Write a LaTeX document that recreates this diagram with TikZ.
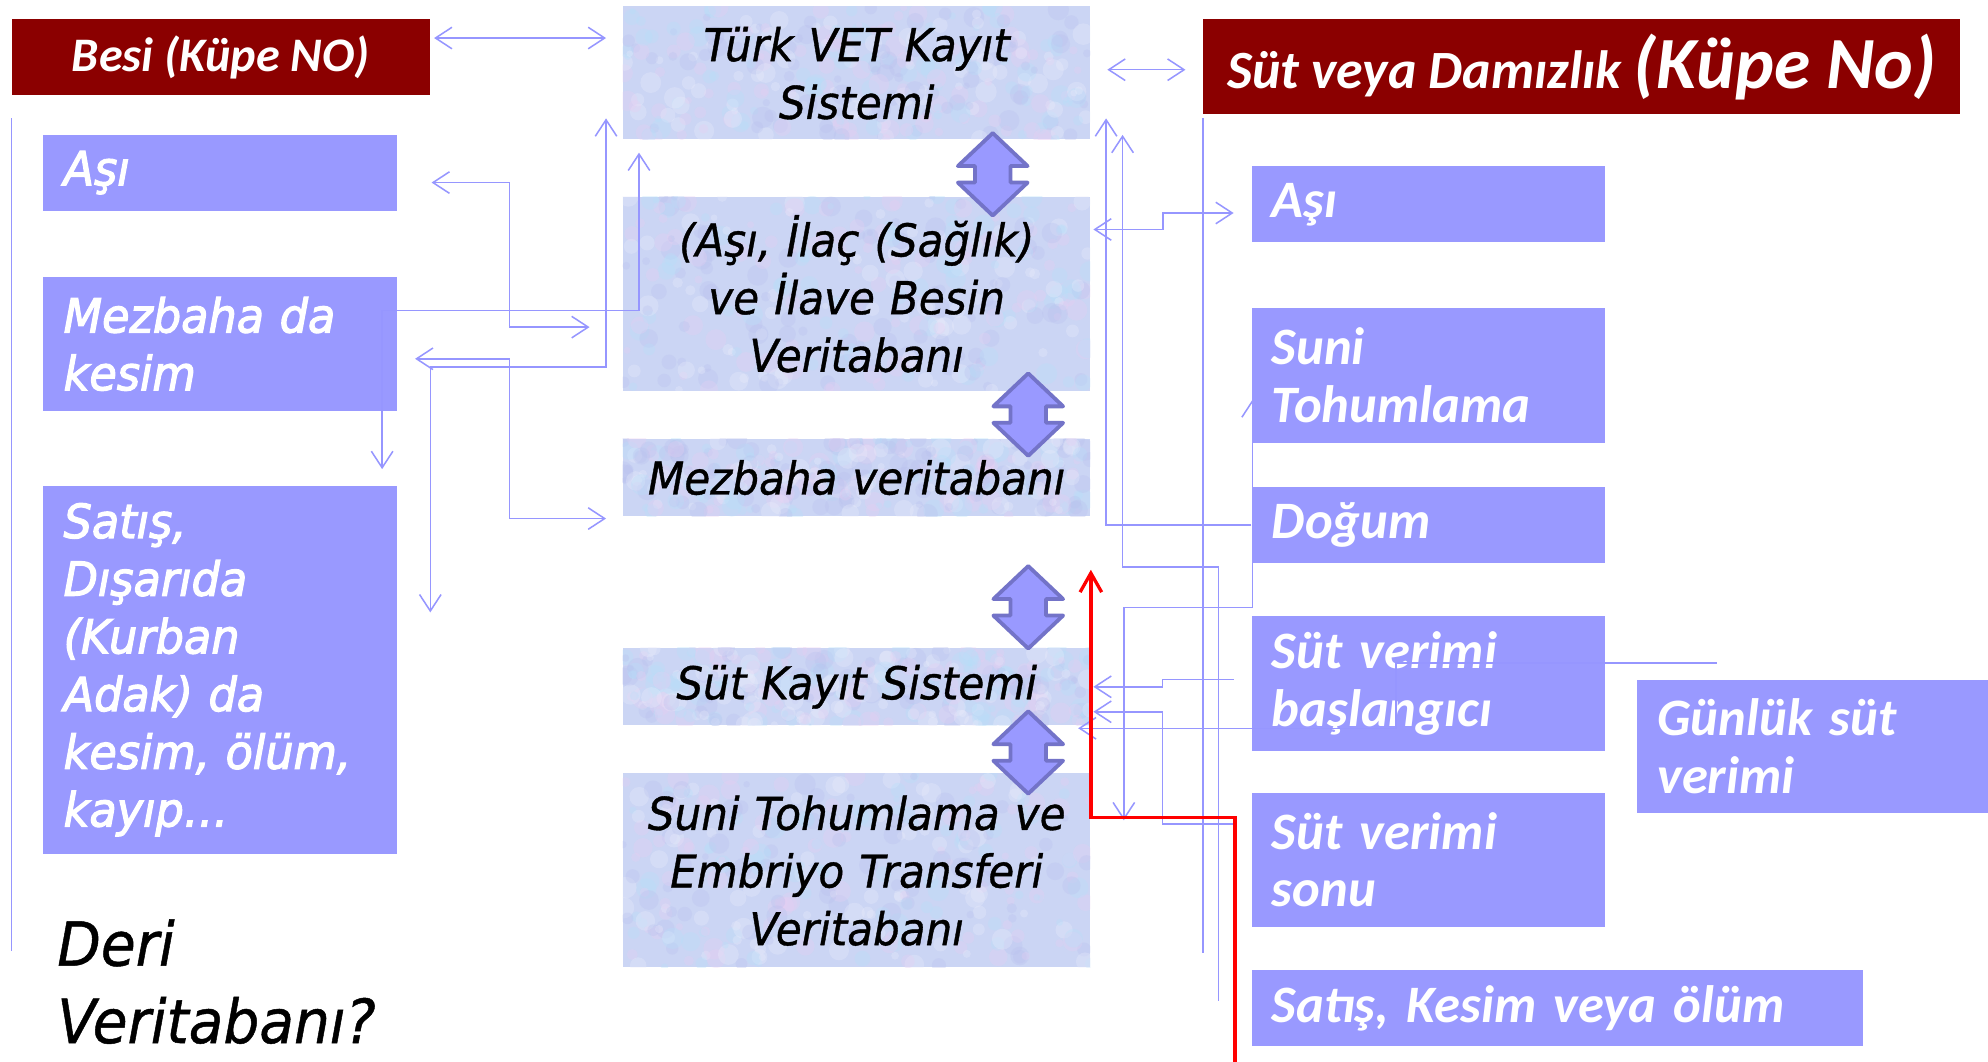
\documentclass[tikz,border=0pt]{standalone}
\usepackage{fontspec}
\usetikzlibrary{arrows.meta}
\newfontfamily\wideface[FakeStretch=0.93,FakeBold=0.8]{DejaVu Sans}
\newfontfamily\sideface[FakeStretch=0.95,FakeBold=2.5]{DejaVu Sans}
\newfontfamily\condface{Carlito}
\definecolor{boxblue}{RGB}{153,153,255}
\definecolor{linkblue}{RGB}{150,150,255}
\definecolor{headred}{RGB}{139,0,0}
\definecolor{dbfill}{RGB}{203,213,244}
\definecolor{arrowedge}{RGB}{115,115,200}
\definecolor{marble0}{RGB}{232,206,242}
\definecolor{marble1}{RGB}{182,224,250}
\definecolor{marble2}{RGB}{184,192,238}
\definecolor{marble3}{RGB}{236,238,252}
\pgfdeclarelayer{back}
\pgfsetlayers{back,main}
% marbled fill for a database box: #1 left, #2 top, #3 width, #4 height
\newcommand\marblefill[4]{%
  \begin{scope}
    \clip (#1,#2) rectangle ++(#3,#4);
    \fill[dbfill] (#1,#2) rectangle ++(#3,#4);
    \foreach \k in {1,...,320}{%
      \pgfmathsetmacro\px{#1+rnd*#3}%
      \pgfmathsetmacro\py{#2+rnd*#4}%
      \pgfmathsetmacro\rr{2.5+6*rnd}%
      \pgfmathtruncatemacro\cc{min(3,4*rnd)}%
      \fill[marble\cc, opacity=0.3] (\px,\py) circle[radius=\rr];
    }
  \end{scope}}
\begin{document}
\begin{tikzpicture}[x=1pt,y=-1pt,
  lavbox/.style={rectangle, fill=boxblue, anchor=north west, inner ysep=0pt,
    inner xsep=16pt, align=left, text=white},
  leftbox/.style={lavbox, font=\sideface\itshape\fontsize{37}{45.5}\selectfont},
  rightbox/.style={lavbox, font=\condface\bfseries\itshape\fontsize{41.5}{45.5}\selectfont},
  dbbox/.style={rectangle, anchor=north west, inner sep=0pt,
    align=center, text=black, text width=369pt, minimum width=369pt,
    font=\wideface\itshape\fontsize{35.7}{45.5}\selectfont},
  titlebox/.style={rectangle, fill=headred, anchor=north west, inner sep=0pt,
    align=center, text=white, font=\condface\bfseries\itshape},
  link/.style={draw=linkblue, line width=1.2pt},
  openv/.tip={Straight Barb[length=13pt,width=17pt]},
  flow/.style={draw=red, line width=2.6pt},
  updown/.pic={
    \draw[fill=boxblue, draw=arrowedge, line width=3pt, line join=round]
      (0,-32.5) -- (27.5,-6.5) -- (14,-6.5) -- (14,6.5) -- (27.5,6.5)
      -- (0,32.5) -- (-27.5,6.5) -- (-14,6.5) -- (-14,-6.5) -- (-27.5,-6.5) -- cycle;
  }]

\useasboundingbox (0,0) rectangle (1568,837);
\pgfmathsetseed{4217}
\begin{pgfonlayer}{back}
  \fill[white] (0,0) rectangle (1568,837);
  \marblefill{491}{5}{369}{105}
  \marblefill{491}{155}{369}{153}
  \marblefill{491}{346}{369}{61}
  \marblefill{491}{511}{369}{61}
  \marblefill{491}{610}{369}{153}
\end{pgfonlayer}

% ---- fattening (left) column
\node[titlebox, minimum width=330pt, minimum height=60pt,
  font=\condface\bfseries\itshape\fontsize{38}{44}\selectfont] (besi) at (9,15) {Besi (Küpe NO)};
\node[leftbox, minimum width=279pt, text width=247pt, minimum height=60pt] (asiL) at (34,106) {Aşı};
\node[leftbox, minimum width=279pt, text width=247pt, minimum height=106pt] (mezK) at (34,218) {Mezbaha da\\kesim};
\node[leftbox, minimum width=279pt, text width=247pt, minimum height=290pt] (satisL) at (34,383)
  {Satış,\\Dışarıda\\(Kurban\\Adak) da\\kesim, ölüm,\\kayıp…};
\node[anchor=north west, inner sep=0pt, align=left,
  font=\wideface\itshape\fontsize{48}{61}\selectfont] (deri) at (45,725) {Deri\\Veritabanı?};

% ---- databases (centre) column
\node[dbbox, minimum height=105pt] (turk) at (491,5) {Türk VET Kayıt\\Sistemi};
\node[dbbox, minimum height=153pt] (ilac) at (491,155) {(Aşı, İlaç (Sağlık)\\ve İlave Besin\\Veritabanı};
\node[dbbox, minimum height=61pt] (mezV) at (491,346) {Mezbaha veritabanı};
\node[dbbox, minimum height=61pt] (sutK) at (491,511) {Süt Kayıt Sistemi};
\node[dbbox, minimum height=153pt] (suni) at (491,610) {Suni Tohumlama ve\\Embriyo Transferi\\Veritabanı};

% ---- dairy / breeding (right) column
\node[titlebox, minimum width=597pt, minimum height=75pt] (sutD) at (949,15)
  {\raisebox{-3pt}{\fontsize{42.5}{48}\selectfont Süt veya Damızlık }\raisebox{-3pt}{\fontsize{58}{62}\selectfont(Küpe No)}};
\node[rightbox, minimum width=279pt, text width=247pt, minimum height=60pt] (asiR) at (987,131) {Aşı};
\node[rightbox, minimum width=279pt, text width=247pt, minimum height=106pt] (suniR) at (987,243) {Suni\\Tohumlama};
\node[rightbox, minimum width=279pt, text width=247pt, minimum height=60pt] (dogum) at (987,384) {Doğum};
\node[rightbox, minimum width=279pt, text width=247pt, minimum height=106pt] (sutB) at (987,486) {Süt verimi\\başlangıcı};
\node[rightbox, minimum width=277pt, text width=245pt, minimum height=105pt] (gunluk) at (1291,536) {Günlük süt\\verimi};
\node[rightbox, minimum width=279pt, text width=247pt, minimum height=106pt] (sutS) at (987,625) {Süt verimi\\sonu};
\node[rightbox, minimum width=482pt, text width=450pt, minimum height=60pt] (satisR) at (987,765) {Satış, Kesim veya ölüm};

% ---- link running behind the right-hand boxes
\begin{pgfonlayer}{back}
  \draw[link, openv-openv] ([shift={(1,72)}]suniR.north west)
    |- ([shift={(26,-131)}]suni.north east) -- ([shift={(26,37)}]suni.north east);
\end{pgfonlayer}

% ---- two-way transfers between the databases
\pic (ud1) at (783,137.5) {updown};
\pic (ud2) at (811,327) {updown};
\pic (ud3) at (811,479) {updown};
\pic (ud4) at (811,593.5) {updown};

% ---- side rails
\draw[link] ([shift={(0,18)}]besi.south west) -- ++(0,657);
\draw[link] ([shift={(0,3)}]sutD.south west) -- ++(0,658);

% ---- left-hand links
\draw[link, openv-openv] ([shift={(3,15)}]besi.north east) -- ([shift={(-13,25)}]turk.north west);
\draw[link, openv-openv] ([shift={(27,38)}]asiL.north east)
  -| ([shift={(-89,103)}]ilac.north west) -- ([shift={(-26,103)}]ilac.north west);
\draw[link, openv-openv] ([shift={(14,65)}]mezK.north east)
  -| ([shift={(-89,63)}]mezV.north west) -- ([shift={(-13,63)}]mezV.north west);
\draw[link, openv-openv] ([shift={(-13,-17)}]turk.south west)
  |- ([shift={(26,-93.5)}]satisL.north east) -- ([shift={(26,100)}]satisL.north east);
\draw[link, openv-openv] ([shift={(13,10)}]turk.south west)
  |- ([shift={(-12,-138)}]satisL.north east) -- ([shift={(-12,-13)}]satisL.north east);

% ---- right-hand links
\draw[link, openv-openv] ([shift={(13,50)}]turk.north east) -- ([shift={(-14,40)}]sutD.north west);
\draw[link, openv-openv] ([shift={(2,26)}]ilac.north east) -- ++(55,0)
  |- ([shift={(-14,37)}]asiR.north west);
\draw[link, -openv] (dogum.west) -| ([shift={(12,-17)}]turk.south east);
\draw[link, -openv] ([shift={(-26,24.5)}]satisR.north west)
  |- ([shift={(25,337)}]turk.south east) -- ([shift={(25,-4)}]turk.south east);
\draw[link, -openv] ([shift={(-14,50)}]sutB.north west) -- ++(-56,0)
  |- ([xshift=2pt]sutK.east);
\draw[link, -openv] ([shift={(-14,25)}]sutS.north west) -- ++(-56,0)
  |- ([shift={(2,-11)}]sutK.south east);
\draw[link, -openv] ([shift={(63,-13)}]gunluk.north west) -- ++(-253,0)
  |- ([shift={(-10,2)}]sutK.south east);

% ---- highlighted return path
\draw[flow, -{Straight Barb[length=15pt,width=17pt]}] ([shift={(-13,12)}]satisR.south west)
  |- ([shift={(0,237.5)}]mezV.south east) -- ([shift={(0,42)}]mezV.south east);

\end{tikzpicture}
\end{document}
